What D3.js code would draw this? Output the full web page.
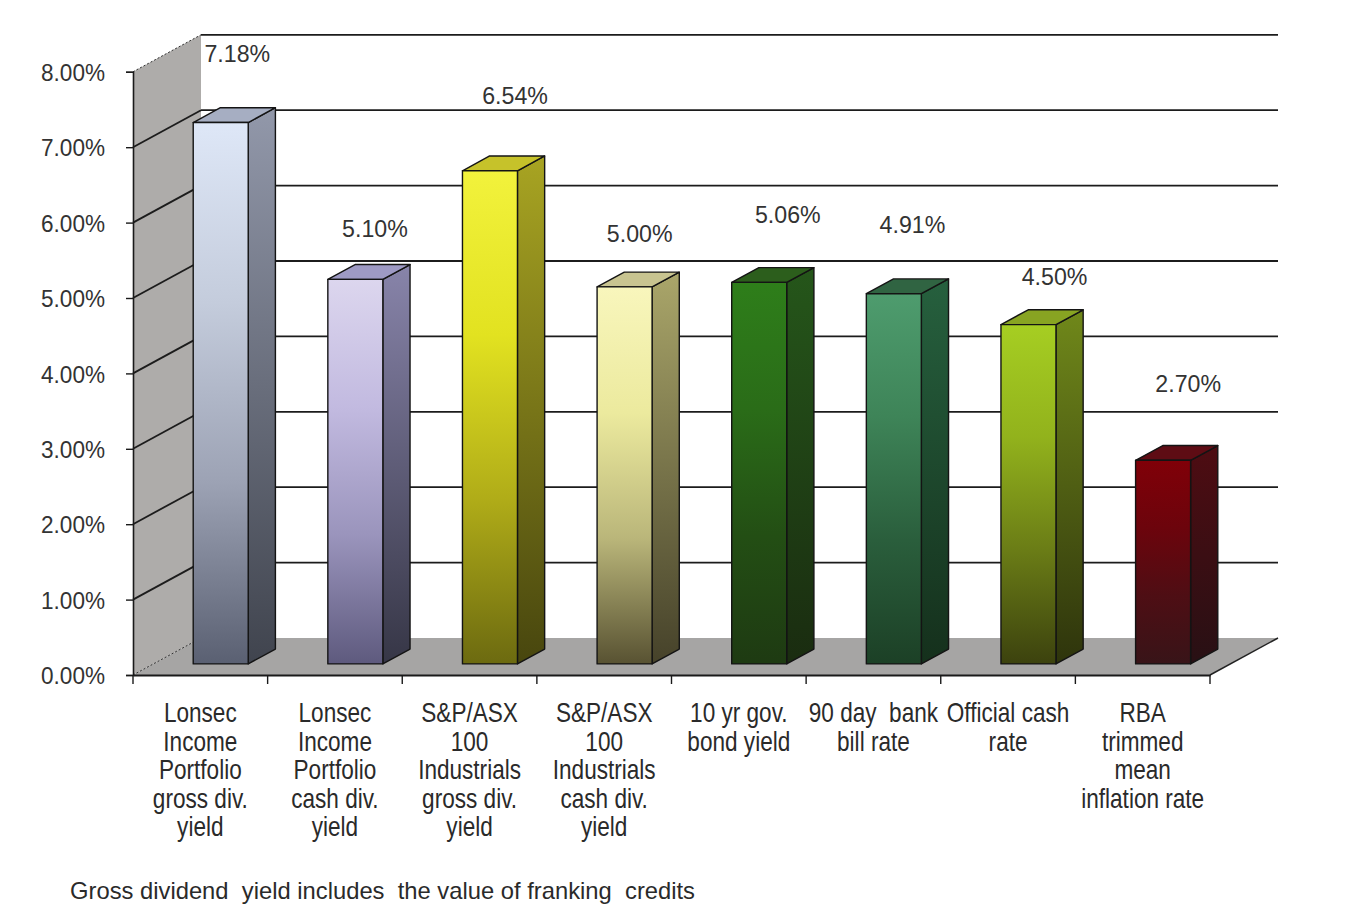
<!DOCTYPE html>
<html>
<head>
<meta charset="utf-8">
<script src="https://cdn.jsdelivr.net/npm/d3@7"></script>
<style>
  html, body { margin: 0; padding: 0; background: #ffffff; }
  svg { display: block; }
  text { font-family: "Liberation Sans", Arial, sans-serif; fill: #2a2a2a; }
</style>
</head>
<body>
<svg id="chart" width="1355" height="922"></svg>
<script>
// ---------------- data ----------------
const categories = [
  ["Lonsec", "Income", "Portfolio", "gross div.", "yield"],
  ["Lonsec", "Income", "Portfolio", "cash div.", "yield"],
  ["S&P/ASX", "100", "Industrials", "gross div.", "yield"],
  ["S&P/ASX", "100", "Industrials", "cash div.", "yield"],
  ["10 yr gov.", "bond yield"],
  ["90 day  bank", "bill rate"],
  ["Official cash", "rate"],
  ["RBA", "trimmed", "mean", "inflation rate"]
];
const values = [7.18, 5.10, 6.54, 5.00, 5.06, 4.91, 4.50, 2.70];
const yTicks = [0, 1, 2, 3, 4, 5, 6, 7, 8];
const footnote = "Gross dividend  yield includes  the value of franking  credits";

// ---------------- styles / layout ----------------
const FONT = "'Liberation Sans', Arial, sans-serif";
const palette = [
  { front: ["#dee7f7", "#c4ccdc", "#9ca2b4", "#5a6072"], side: ["#9298aa", "#40444e"], top: "#a6aec2" },
  { front: ["#dcd6ee", "#c2bae0", "#9a94bc", "#5e5a7e"], side: ["#8884aa", "#363646"], top: "#9e9ac4" },
  { front: ["#f2f23c", "#e2e220", "#b0ac18", "#6c6a10"], side: ["#a8a422", "#48460e"], top: "#c6c22a" },
  { front: ["#f8f6bc", "#ecea9e", "#bab67a", "#585232"], side: ["#aaa66a", "#46422a"], top: "#c8c490" },
  { front: ["#2e7e1a", "#2a6c18", "#234e14", "#1e3a12"], side: ["#25561a", "#1a2c10"], top: "#2c5e1c" },
  { front: ["#4e9c6e", "#3e8458", "#2a5e3c", "#1c4026"], side: ["#26603e", "#15301c"], top: "#306442" },
  { front: ["#a6ce22", "#92b21c", "#6a7c16", "#3c420e"], side: ["#70881a", "#2e340c"], top: "#88a422" },
  { front: ["#800008", "#6c040c", "#4e0e14", "#381418"], side: ["#4e0c12", "#281014"], top: "#5e0c14" }
];
const labelDx   = [3, 6, 11.5, 1.5, 15, 5, 12.5, 11.5];
const labelLift = [53, 35, 59, 37.5, 52, 53, 32, 61];

const plotLeft = 133, plotRight = 1210, plotBottom = 675, plotTop = 71.8;
const D = { x: 68, y: -37 };        // depth vector (front -> back wall)
const d0 = 0.3, d1 = 0.7;           // bar depth extent
const barW = 55;
const TS_NUM  = "scale(1.22,1.3)";  // numeric labels
const TS_CAT  = "scale(1.05,1.27)"; // category labels
const TS_NOTE = "scale(1.22,1.2)";  // footnote

const svg = d3.select("#chart");
const defs = svg.append("defs");

const x = d3.scaleBand().domain(d3.range(categories.length)).range([plotLeft, plotRight]).paddingInner(0).paddingOuter(0);
const y = d3.scaleLinear().domain([0, 8]).range([plotBottom, plotTop]);

const P = (xx, v, d) => [xx + D.x * d, y(v) + D.y * d];
const poly = pts => pts.map(p => p.join(",")).join(" ");

// ---------------- walls ----------------
const walls = svg.append("g");
walls.append("polygon")
  .attr("points", poly([P(plotLeft, 8, 0), P(plotLeft, 8, 1), P(plotLeft, 0, 1), P(plotLeft, 0, 0)]))
  .attr("fill", "#aeacaa");
walls.append("polygon")
  .attr("points", poly([P(plotLeft, 0, 0), P(plotLeft, 0, 1), P(plotRight, 0, 1), P(plotRight, 0, 0)]))
  .attr("fill", "#a6a5a4");

yTicks.forEach(t => {
  const dashed = (t === 0 || t === 8);
  if (t > 0) {
    walls.append("line")
      .attr("x1", P(plotLeft, t, 1)[0]).attr("y1", P(plotLeft, t, 1)[1])
      .attr("x2", P(plotRight, t, 1)[0]).attr("y2", P(plotRight, t, 1)[1])
      .attr("stroke", "#1c1c1c").attr("stroke-width", 1.8);
  }
  walls.append("line")
    .attr("x1", P(plotLeft, t, 0)[0]).attr("y1", P(plotLeft, t, 0)[1])
    .attr("x2", P(plotLeft, t, 1)[0]).attr("y2", P(plotLeft, t, 1)[1])
    .attr("stroke", dashed ? "#333" : "#1c1c1c")
    .attr("stroke-width", dashed ? 1 : 1.8)
    .attr("stroke-dasharray", dashed ? "2,2" : null);
});
walls.append("line")
  .attr("x1", P(plotRight, 0, 0)[0]).attr("y1", P(plotRight, 0, 0)[1])
  .attr("x2", P(plotRight, 0, 1)[0]).attr("y2", P(plotRight, 0, 1)[1])
  .attr("stroke", "#222").attr("stroke-width", 1.5);

// ---------------- gradients ----------------
palette.forEach((c, i) => {
  const gf = defs.append("linearGradient").attr("id", "gf" + i).attr("x1", 0).attr("y1", 0).attr("x2", 0).attr("y2", 1);
  c.front.forEach((col, k) => gf.append("stop").attr("offset", k / (c.front.length - 1)).attr("stop-color", col));
  const gs = defs.append("linearGradient").attr("id", "gs" + i).attr("x1", 0).attr("y1", 0).attr("x2", 0).attr("y2", 1);
  c.side.forEach((col, k) => gs.append("stop").attr("offset", k / (c.side.length - 1)).attr("stop-color", col));
});

// ---------------- bars ----------------
const bars = svg.append("g").selectAll("g").data(values).join("g");
bars.each(function (v, i) {
  const g = d3.select(this);
  const xl = x(i) + x.bandwidth() / 2 - barW / 2;
  const xr = xl + barW;
  const sk = "#141414", sw = 1.4;
  g.append("polygon")
    .attr("points", poly([P(xr, 0, d0), P(xr, 0, d1), P(xr, v, d1), P(xr, v, d0)]))
    .attr("fill", `url(#gs${i})`).attr("stroke", sk).attr("stroke-width", sw).attr("stroke-linejoin", "round");
  g.append("polygon")
    .attr("points", poly([P(xl, v, d0), P(xr, v, d0), P(xr, v, d1), P(xl, v, d1)]))
    .attr("fill", palette[i].top).attr("stroke", sk).attr("stroke-width", sw).attr("stroke-linejoin", "round");
  g.append("polygon")
    .attr("points", poly([P(xl, 0, d0), P(xr, 0, d0), P(xr, v, d0), P(xl, v, d0)]))
    .attr("fill", `url(#gf${i})`).attr("stroke", sk).attr("stroke-width", sw).attr("stroke-linejoin", "round");
});

// ---------------- data labels ----------------
const fmtPct = v => d3.format(".2%")(v / 100);
svg.append("g").selectAll("text").data(values).join("text")
  .attr("transform", (v, i) => {
    const a = P(x(i) + x.bandwidth() / 2, v, 0.5);
    return `translate(${a[0] + labelDx[i]},${a[1] - labelLift[i]}) ${TS_NUM}`;
  })
  .attr("text-anchor", "middle")
  .style("font-family", FONT)
  .style("font-size", "19px")
  .style("fill", "#333")
  .text(v => fmtPct(v));

// ---------------- axes ----------------
const yAxis = svg.append("g")
  .attr("transform", `translate(${plotLeft},0)`)
  .call(d3.axisLeft(y).tickValues(yTicks).tickFormat(fmtPct).tickSize(7).tickPadding(21));
yAxis.attr("font-family", null);
yAxis.select(".domain").attr("stroke", "#1a1a1a").attr("stroke-width", 1.6);
yAxis.selectAll(".tick line").attr("stroke", "#1a1a1a").attr("stroke-width", 1.4);
yAxis.selectAll(".tick text")
  .attr("transform", TS_NUM)
  .attr("x", -28 / 1.22)
  .attr("dy", "0.36em")
  .style("font-size", "18.5px")
  .style("font-family", FONT)
  .style("fill", "#333");

const xAxis = svg.append("g")
  .attr("transform", `translate(0,${plotBottom})`)
  .call(d3.axisBottom(x).tickFormat("").tickSize(0));
xAxis.select(".domain").attr("stroke", "#1a1a1a").attr("stroke-width", 1.8);
xAxis.selectAll(".tick").remove();
const bounds = d3.range(categories.length + 1).map(k => k === categories.length ? plotRight : x(k));
xAxis.selectAll("line.bt").data(bounds).join("line").attr("class", "bt")
  .attr("x1", d => d).attr("x2", d => d).attr("y1", 0).attr("y2", 9)
  .attr("stroke", "#1a1a1a").attr("stroke-width", 1.4);

// ---------------- category labels ----------------
const catG = svg.append("g");
categories.forEach((lines, i) => {
  const cx = x(i) + x.bandwidth() / 2;
  lines.forEach((ln, k) => {
    catG.append("text")
      .attr("transform", `translate(${cx},${722 + k * 28.5}) ${TS_CAT}`)
      .attr("text-anchor", "middle")
      .style("font-family", FONT)
      .style("font-size", "21.5px")
      .style("white-space", "pre")
      .text(ln);
  });
});

// ---------------- footnote ----------------
svg.append("text")
  .attr("transform", `translate(70,899) ${TS_NOTE}`)
  .style("font-family", FONT)
  .style("font-size", "19.5px")
  .style("white-space", "pre")
  .text(footnote);
</script>
</body>
</html>
